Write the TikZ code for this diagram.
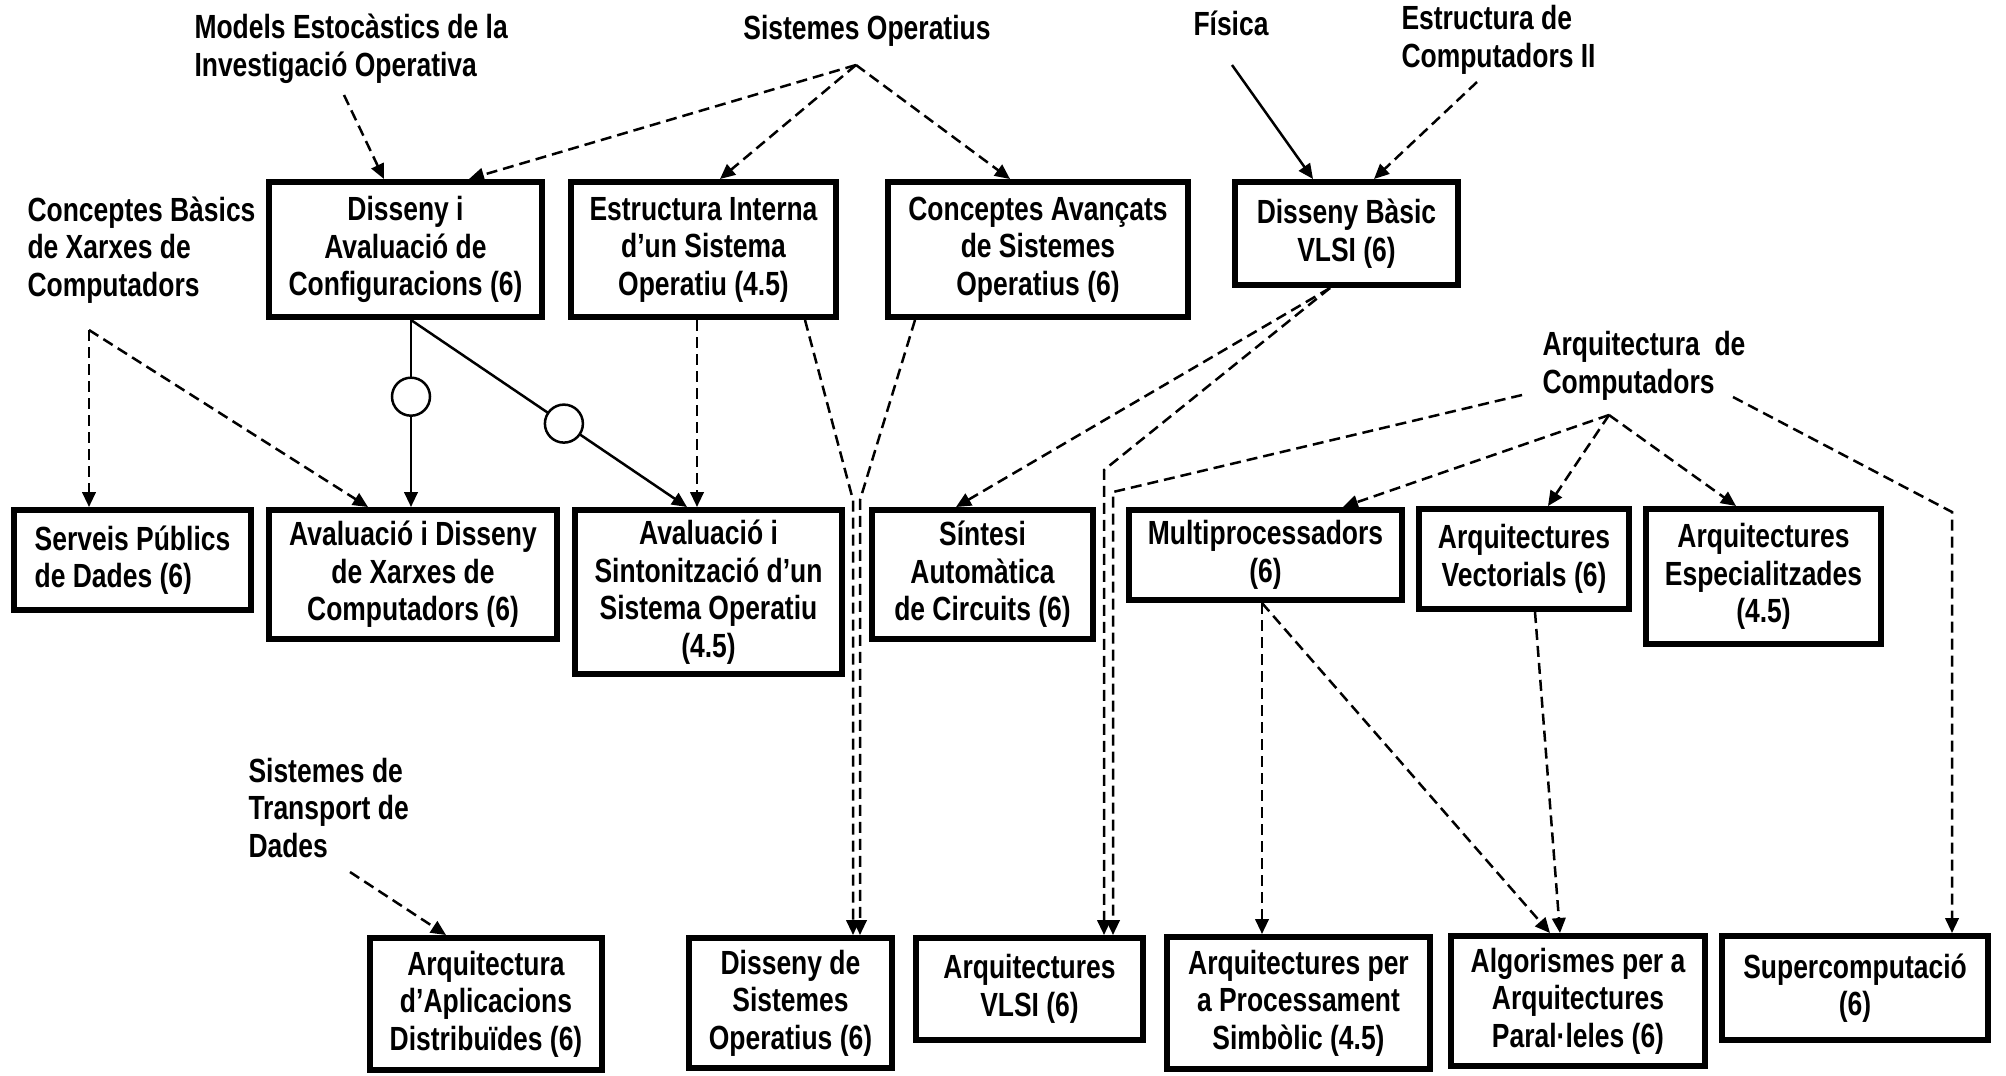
\documentclass[tikz,border=0pt]{standalone}
\usepackage{fontspec}
\setmainfont[FakeStretch=0.79]{Liberation Sans}
\usetikzlibrary{arrows.meta}
\begin{document}
\begin{tikzpicture}[x=0.4pt,y=-0.4pt,
  txt/.style={font=\bfseries\fontsize{13.4pt}{15pt}\selectfont},
  box/.style={txt, draw, line width=2.4pt, inner sep=0pt, align=center},
  lbl/.style={txt, inner sep=0pt, align=left, anchor=west},
  clbl/.style={txt, inner sep=0pt, align=center},
  tip/.style={-{Triangle[length=6pt,width=5.4pt]}},
  dsh/.style={tip, line width=1pt, dash pattern=on 4.4pt off 2.4pt},
  sol/.style={tip, line width=1pt},
  ring/.style={circle, draw, fill=white, line width=1pt, minimum size=15.2pt, inner sep=0pt}
]
\useasboundingbox (0,0) rectangle (2006,1075);

% ---------- labels ----------
\node[lbl] (models) at (194,49) {Models Estocàstics de la\\Investigació Operativa};
\node[clbl] (sysop) at (867,31) {Sistemes Operatius};
\node[clbl] (fisica) at (1231,23) {Física};
\node[lbl] (estc2) at (1401,40) {Estructura de\\Computadors II};
\node[lbl] (cbx) at (27,250) {Conceptes Bàsics\\de Xarxes de\\Computadors};
\node[lbl] (arqc) at (1542,366) {Arquitectura\ \ de\\Computadors};
\node[lbl] (std) at (248,808) {Sistemes de\\Transport de\\Dades};

% ---------- row 1 ----------
\node[box, minimum width=109.2pt, minimum height=54pt] (b1) at (405.5,249.5) {Disseny i\\Avaluació de\\Configuracions (6)};
\node[box, minimum width=106pt, minimum height=54pt] (b2) at (703.5,249.5) {Estructura Interna\\d’un Sistema\\Operatiu (4.5)};
\node[box, minimum width=120pt, minimum height=54pt] (b3) at (1038,249.5) {Conceptes Avançats\\de Sistemes\\Operatius (6)};
\node[box, minimum width=89.2pt, minimum height=41.2pt] (b4) at (1346.5,233.5) {Disseny Bàsic\\VLSI (6)};

% ---------- row 2 ----------
\node[box, align=left, minimum width=94.8pt, minimum height=40pt] (c1) at (132.5,560) {Serveis Públics\\de Dades (6)};
\node[box, minimum width=115.2pt, minimum height=51.6pt] (c2) at (413,574.5) {Avaluació i Disseny\\de Xarxes de\\Computadors (6)};
\node[box, minimum width=106.8pt, minimum height=65.6pt] (c3) at (708.5,592) {Avaluació i\\Sintonització d’un\\Sistema Operatiu\\(4.5)};
\node[box, minimum width=88.4pt, minimum height=51.6pt] (c4) at (982.5,574.5) {Síntesi\\Automàtica\\de Circuits (6)};
\node[box, minimum width=109.2pt, minimum height=36pt] (c5) at (1265.5,555) {Multiprocessadors\\(6)};
\node[box, minimum width=84pt, minimum height=40pt] (c6) at (1524,559) {Arquitectures\\Vectorials (6)};
\node[box, minimum width=94pt, minimum height=54pt] (c7) at (1763.5,576.5) {Arquitectures\\Especialitzades\\(4.5)};

% ---------- row 3 ----------
\node[box, minimum width=92.8pt, minimum height=52.8pt] (d1) at (486,1004) {Arquitectura\\d’Aplicacions\\Distribuïdes (6)};
\node[box, minimum width=81.2pt, minimum height=52pt] (d2) at (790.5,1003) {Disseny de\\Sistemes\\Operatius (6)};
\node[box, minimum width=90.8pt, minimum height=40.8pt] (d3) at (1029.5,989) {Arquitectures\\VLSI (6)};
\node[box, minimum width=105.2pt, minimum height=52.8pt] (d4) at (1298.5,1003) {Arquitectures per\\a Processament\\Simbòlic (4.5)};
\node[box, minimum width=101.6pt, minimum height=52pt] (d5) at (1578,1001) {Algorismes per a\\Arquitectures\\Paral·leles (6)};
\node[box, minimum width=106.4pt, minimum height=41.6pt] (d6) at (1855,988) {Supercomputació\\(6)};

% ---------- connector start points ----------
\coordinate (mS) at (344,95);
\coordinate (soA) at (856,65);
\coordinate (fS) at (1232,65);
\coordinate (e2S) at (1477,82);
\coordinate (cbA) at (89,330);
\coordinate (acA) at (1609,415);
\coordinate (acL) at (1522,395);
\coordinate (acR) at (1733,397);
\coordinate (stS) at (350,872);

% ---------- connectors ----------
\draw[dsh] (mS) -- (384,0 |- b1.north);
\draw[dsh] (soA) -- (469,0 |- b1.north);
\draw[dsh] (soA) -- (720,0 |- b2.north);
\draw[dsh] (soA) -- (1010,0 |- b3.north);
\draw[sol] (fS) -- (1313,0 |- b4.north);
\draw[dsh] (e2S) -- (1374,0 |- b4.north);

\draw[dsh] (cbA) -- (89,0 |- c1.north);
\draw[dsh] (cbA) -- (368,0 |- c2.north);

\draw[sol] (411,0 |- b1.south) -- node[ring, pos=0.41] (r1) {} (411,0 |- c2.north);
\draw[sol] (411,0 |- b1.south) -- node[ring, pos=0.554] (r2) {} (687,0 |- c3.north);

\draw[dsh] (697,0 |- b2.south) -- (697,0 |- c3.north);
\draw[dsh] (805,0 |- b2.south) -- (853,500) -- (853,0 |- d2.north);
\draw[dsh] (915,0 |- b3.south) -- (860,500) -- (860,0 |- d2.north);

\draw[dsh] (1330,0 |- b4.south) -- (956,0 |- c4.north);
\draw[dsh] (1330,0 |- b4.south) -- (1104,470) -- (1104,0 |- d3.north);

\draw[dsh] (acA) -- (1343,0 |- c5.north);
\draw[dsh] (acA) -- (1548,0 |- c6.north);
\draw[dsh] (acA) -- (1736,0 |- c7.north);
\draw[dsh] (acL) -- (1113,492) -- (1113,0 |- d3.north);
\draw[dsh] (acR) -- (1952,512) -- (1952,0 |- d6.north);

\draw[dsh] (1262,0 |- c5.south) -- (1262,0 |- d4.north);
\draw[dsh] (1262,0 |- c5.south) -- (1550,0 |- d5.north);
\draw[dsh] (1535,0 |- c6.south) -- (1560,0 |- d5.north);

\draw[dsh] (stS) -- (446,0 |- d1.north);
\end{tikzpicture}
\end{document}
